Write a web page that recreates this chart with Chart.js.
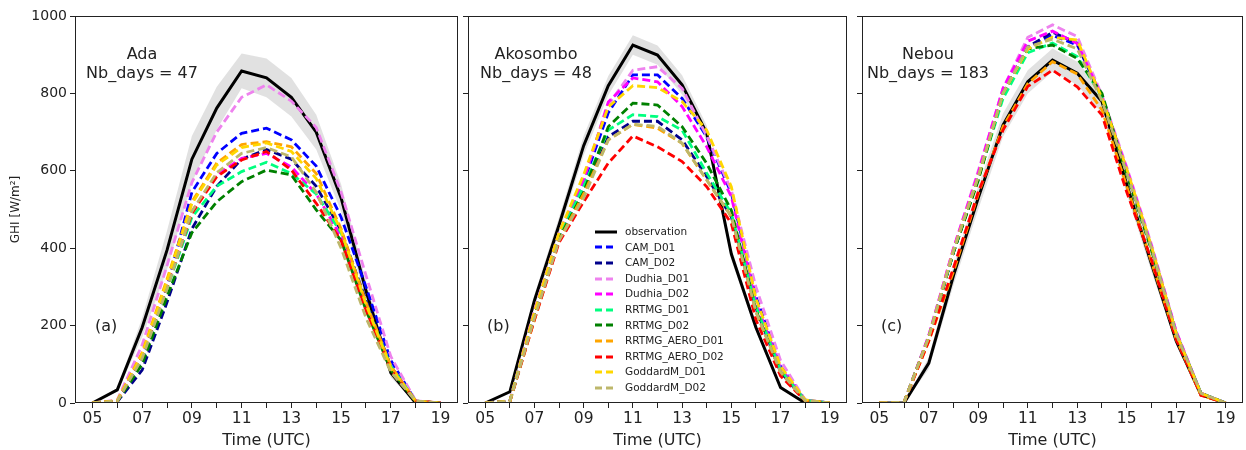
<!DOCTYPE html>
<html>
<head>
<meta charset="utf-8">
<script src="https://cdn.jsdelivr.net/npm/chart.js@4.4.1/dist/chart.umd.min.js"></script>
<style>
    body { margin: 0; background: #fff; width: 1246px; height: 450px; overflow: hidden; position: relative; font-family: "DejaVu Sans", sans-serif; color: #222; }
    .panel { position: absolute; top: 0; height: 450px; }
    .site { position: absolute; text-align: center; font-size: 16px; line-height: 19px; white-space: nowrap; transform: translateX(-50%); }
    .tag { position: absolute; font-size: 16px; line-height: 19px; }
    #legend { position: absolute; left: 595px; top: 224px; font-size: 10.5px; line-height: 15.6px; }
    #legend div { display: flex; align-items: center; height: 15.6px; white-space: nowrap; }
    #legend svg { width: 22px; height: 8px; margin-right: 8px; }
</style>
</head>
<body>
<div class="panel" style="left:0;width:470px"><canvas id="chartAda"></canvas></div>
<div class="panel" style="left:460px;width:397px"><canvas id="chartAko"></canvas></div>
<div class="panel" style="left:854px;width:392px"><canvas id="chartNeb"></canvas></div>

<div class="site" style="left:142px;top:44px">Ada<br>Nb_days = 47</div>
<div class="site" style="left:536px;top:44px">Akosombo<br>Nb_days = 48</div>
<div class="site" style="left:928px;top:44px">Nebou<br>Nb_days = 183</div>
<div class="tag" style="left:95px;top:316px">(a)</div>
<div class="tag" style="left:487px;top:316px">(b)</div>
<div class="tag" style="left:881px;top:316px">(c)</div>
<div id="legend"></div>

<script>
// x = hour UTC, y = GHI
const hours = [5, 6, 7, 8, 9, 10, 11, 12, 13, 14, 15, 16, 17, 18, 19];
const yTicks = [0, 200, 400, 600, 800, 1000];

const runNames = ['CAM_D01', 'CAM_D02', 'Dudhia_D01', 'Dudhia_D02', 'RRTMG_D01', 'RRTMG_D02',
    'RRTMG_AERO_D01', 'RRTMG_AERO_D02', 'GoddardM_D01', 'GoddardM_D02'];
const runColors = ['#0000ff', '#00008b', '#ee82ee', '#ff00ff', '#00ff7f', '#008000',
    '#ffa500', '#ff0000', '#ffd700', '#bdb76b'];

// ---- Ada (47 days)
const adaObs = [0, 34, 195, 395, 630, 762, 858, 840, 790, 700, 530, 290, 78, 0, 0];
const adaStd = [0, 5, 25, 50, 60, 55, 45, 50, 50, 45, 35, 25, 12, 0, 0];
const ada_CAM_D01 = [0, 5, 110, 300, 545, 645, 697, 710, 680, 612, 480, 300, 110, 5, 0];
const ada_CAM_D02 = [0, 3, 85, 260, 450, 560, 630, 655, 630, 560, 445, 265, 95, 5, 0];
const ada_Dudhia_D01 = [0, 8, 150, 355, 570, 700, 790, 822, 780, 712, 545, 330, 120, 6, 0];
const ada_Dudhia_D02 = [0, 5, 120, 300, 495, 590, 632, 645, 610, 540, 430, 250, 95, 5, 0];
const ada_RRTMG_D01 = [0, 5, 115, 295, 480, 560, 598, 622, 593, 540, 440, 255, 95, 5, 0];
const ada_RRTMG_D02 = [0, 4, 100, 275, 440, 520, 572, 602, 589, 499, 420, 240, 85, 4, 0];
const ada_AERO_D01 = [0, 6, 130, 320, 520, 620, 668, 675, 662, 593, 450, 260, 95, 5, 0];
const ada_AERO_D02 = [0, 5, 120, 300, 490, 585, 628, 650, 602, 516, 420, 240, 85, 5, 0];
const ada_GoddardM_D01 = [0, 6, 125, 315, 515, 615, 660, 672, 650, 580, 445, 255, 90, 5, 0];
const ada_GoddardM_D02 = [0, 5, 115, 295, 495, 595, 645, 660, 636, 545, 400, 220, 80, 5, 0];

// ---- Akosombo (48 days)
const akoObs = [0, 29, 265, 460, 665, 820, 925, 899, 822, 697, 385, 195, 40, 0, 0];
const akoStd = [0, 3, 15, 20, 25, 25, 25, 25, 25, 20, 15, 10, 5, 0, 0];
const ako_CAM_D01 = [0, 5, 230, 430, 570, 750, 848, 848, 787, 688, 542, 275, 95, 8, 0];
const ako_CAM_D02 = [0, 4, 220, 420, 545, 688, 728, 728, 680, 585, 481, 245, 80, 6, 0];
const ako_Dudhia_D01 = [0, 6, 240, 440, 580, 770, 860, 869, 813, 690, 550, 300, 110, 8, 0];
const ako_Dudhia_D02 = [0, 5, 235, 435, 575, 778, 840, 830, 766, 662, 533, 260, 90, 7, 0];
const ako_RRTMG_D01 = [0, 5, 230, 430, 560, 705, 745, 740, 705, 594, 490, 250, 85, 7, 0];
const ako_RRTMG_D02 = [0, 4, 225, 425, 545, 714, 775, 770, 714, 619, 498, 240, 80, 6, 0];
const ako_AERO_D01 = [0, 3, 215, 420, 540, 680, 720, 710, 671, 576, 482, 235, 80, 6, 0];
const ako_AERO_D02 = [0, 4, 215, 415, 520, 620, 690, 662, 624, 559, 464, 215, 70, 6, 0];
const ako_GoddardM_D01 = [0, 5, 235, 440, 590, 765, 820, 815, 779, 705, 559, 270, 95, 8, 0];
const ako_GoddardM_D02 = [0, 4, 220, 420, 530, 680, 720, 715, 671, 576, 482, 235, 80, 6, 0];

// ---- Nebou (183 days)
const nebObs = [0, 0, 103, 330, 530, 718, 830, 886, 852, 779, 565, 360, 160, 21, 0];
const nebStd = [0, 2, 15, 25, 30, 30, 30, 30, 30, 30, 25, 20, 10, 3, 0];
const neb_CAM_D01 = [0, 2, 170, 390, 580, 800, 920, 950, 925, 790, 600, 400, 180, 25, 0];
const neb_CAM_D02 = [0, 2, 170, 390, 585, 800, 920, 958, 930, 790, 600, 400, 180, 25, 0];
const neb_Dudhia_D01 = [0, 2, 175, 400, 600, 813, 945, 977, 947, 795, 610, 410, 185, 25, 0];
const neb_Dudhia_D02 = [0, 2, 175, 400, 595, 813, 935, 961, 929, 790, 605, 405, 185, 25, 0];
const neb_RRTMG_D01 = [0, 2, 170, 390, 580, 787, 905, 930, 895, 790, 595, 400, 180, 25, 0];
const neb_RRTMG_D02 = [0, 2, 170, 390, 575, 800, 915, 925, 890, 800, 590, 395, 175, 25, 0];
const neb_AERO_D01 = [0, 2, 160, 340, 540, 714, 825, 882, 850, 757, 560, 365, 165, 20, 0];
const neb_AERO_D02 = [0, 2, 160, 350, 545, 705, 818, 860, 817, 744, 545, 370, 165, 20, 0];
const neb_GoddardM_D01 = [0, 2, 170, 395, 585, 800, 915, 945, 938, 787, 605, 405, 180, 25, 0];
const neb_GoddardM_D02 = [0, 2, 170, 395, 585, 800, 920, 940, 915, 780, 595, 400, 178, 25, 0];

const adaRuns = [ada_CAM_D01, ada_CAM_D02, ada_Dudhia_D01, ada_Dudhia_D02, ada_RRTMG_D01, ada_RRTMG_D02,
    ada_AERO_D01, ada_AERO_D02, ada_GoddardM_D01, ada_GoddardM_D02];
const akoRuns = [ako_CAM_D01, ako_CAM_D02, ako_Dudhia_D01, ako_Dudhia_D02, ako_RRTMG_D01, ako_RRTMG_D02,
    ako_AERO_D01, ako_AERO_D02, ako_GoddardM_D01, ako_GoddardM_D02];
const nebRuns = [neb_CAM_D01, neb_CAM_D02, neb_Dudhia_D01, neb_Dudhia_D02, neb_RRTMG_D01, neb_RRTMG_D02,
    neb_AERO_D01, neb_AERO_D02, neb_GoddardM_D01, neb_GoddardM_D02];

const ink = '#222';
const DASH = [8, 4];

// box around the plot area, like matplotlib spines
const framePlugin = {
    id: 'frame',
    afterDatasetsDraw(chart) {
        const a = chart.chartArea;
        const ctx = chart.ctx;
        ctx.save();
        ctx.strokeStyle = ink;
        ctx.lineWidth = 1;
        ctx.strokeRect(Math.round(a.left) + 0.5, Math.round(a.top) + 0.5,
            Math.round(a.right - a.left) - 1, Math.round(a.bottom - a.top) - 1);
        ctx.restore();
    }
};

function pts(values) {
    return hours.map((h, i) => ({ x: h, y: values[i] }));
}

function buildPanel(canvasId, obs, std, runs, opt) {
    const datasets = [];
    // grey band obs +/- std
    datasets.push({ data: pts(obs.map((v, i) => v + std[i])), borderWidth: 0, pointRadius: 0,
        backgroundColor: 'rgba(205,205,205,0.6)', fill: '+1', order: 30 });
    datasets.push({ data: pts(obs.map((v, i) => Math.max(0, v - std[i]))), borderWidth: 0, pointRadius: 0,
        fill: false, order: 31 });
    datasets.push({ data: pts(obs), borderColor: '#000', borderWidth: 3, pointRadius: 0, fill: false, order: 20 });
    runs.forEach((vals, i) => {
        datasets.push({ data: pts(vals), borderColor: runColors[i], borderWidth: 2.8, borderDash: DASH,
            pointRadius: 0, fill: false, order: 15 - i });
    });

    return new Chart(document.getElementById(canvasId), {
        type: 'line',
        data: { datasets: datasets },
        options: {
            responsive: true, maintainAspectRatio: false, animation: false,
            layout: { padding: { top: 16, right: opt.padRight, left: 0, bottom: 0 } },
            plugins: { legend: { display: false }, tooltip: { enabled: false } },
            elements: { line: { tension: 0 } },
            scales: {
                x: {
                    type: 'linear', min: 4.3, max: 19.7,
                    afterBuildTicks: s => { s.ticks = hours.map(h => ({ value: h })); },
                    afterFit: s => { s.height = 47; },
                    grid: { drawOnChartArea: false, drawTicks: true, tickLength: 5, color: ink },
                    border: { display: false },
                    ticks: { autoSkip: false, maxRotation: 0, padding: 2, color: ink,
                        font: { family: 'DejaVu Sans', size: 15.5 },
                        callback: v => (v % 2 === 1 ? String(v).padStart(2, '0') : '') },
                    title: { display: true, text: 'Time (UTC)', color: ink, padding: 0,
                        font: { family: 'DejaVu Sans', size: 16 } }
                },
                y: {
                    min: 0, max: 1000,
                    afterBuildTicks: s => { s.ticks = yTicks.map(v => ({ value: v })); },
                    afterFit: s => { s.width = opt.yWidth; },
                    grid: { drawOnChartArea: false, drawTicks: true, tickLength: 5, color: ink },
                    border: { display: false },
                    ticks: { display: opt.yLabels, padding: 3, color: ink,
                        font: { family: 'DejaVu Sans', size: 14 },
                        callback: v => String(v) },
                    title: { display: opt.yLabels, text: 'GHI [W/m²]', color: ink, padding: 9,
                        font: { family: 'DejaVu Sans', size: 12 } }
                }
            }
        },
        plugins: [framePlugin]
    });
}

buildPanel('chartAda', adaObs, adaStd, adaRuns, { yWidth: 75, padRight: 12, yLabels: true });
buildPanel('chartAko', akoObs, akoStd, akoRuns, { yWidth: 8, padRight: 10, yLabels: false });
buildPanel('chartNeb', nebObs, nebStd, nebRuns, { yWidth: 8, padRight: 3, yLabels: false });

// legend inside panel (b)
const legendDiv = document.getElementById('legend');
const legendRows = [{ name: 'observation', color: '#000', dash: false }]
    .concat(runNames.map((n, i) => ({ name: n, color: runColors[i], dash: true })));
legendRows.forEach(r => {
    const line = r.dash
        ? `<line x1="0" y1="4" x2="22" y2="4" stroke="${r.color}" stroke-width="2.8" stroke-dasharray="7 4"/>`
        : `<line x1="0" y1="4" x2="22" y2="4" stroke="${r.color}" stroke-width="3"/>`;
    legendDiv.insertAdjacentHTML('beforeend', `<div><svg viewBox="0 0 22 8">${line}</svg><span>${r.name}</span></div>`);
});
</script>
</body>
</html>
